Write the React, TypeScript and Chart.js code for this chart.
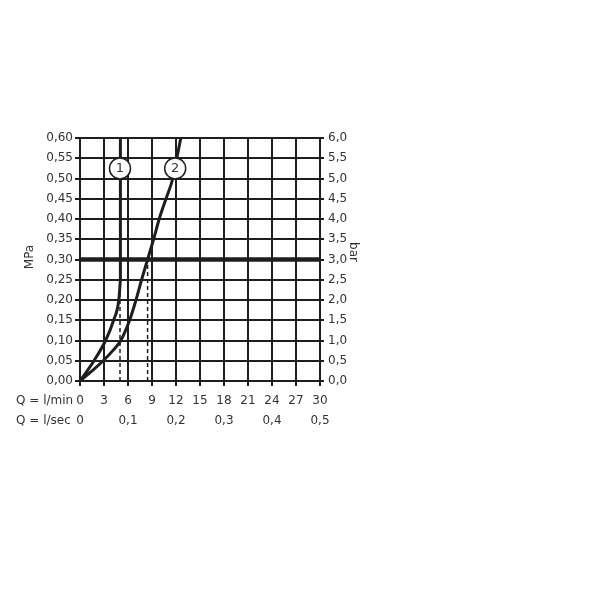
import React, { useEffect, useRef } from "react";
import { Chart, registerables } from "chart.js";

Chart.register(...registerables);

// Flow rate Q (l/min) vs pressure (MPa)
const curve1Q = [0, 0.9, 1.75, 3.2, 4.2, 4.85, 5.05];
const curve1P = [0, 0.025, 0.05, 0.1, 0.15, 0.2, 0.25];
const curve1TopQ = [5.05, 5.05];
const curve1TopP = [0.25, 0.6];
const curve2Q = [0, 1.5, 2.9, 4.1, 5.1, 6.2, 7.0, 7.7, 8.45, 9.2, 9.9, 10.75, 11.6, 12.1, 12.6];
const curve2P = [0, 0.025, 0.05, 0.075, 0.1, 0.15, 0.2, 0.25, 0.3, 0.35, 0.4, 0.45, 0.5, 0.55, 0.6];
const dash1Q = [5.0, 5.0];
const dash1P = [0, 0.22];
const dash2Q = [8.45, 8.45];
const dash2P = [0, 0.3];
const refQ = [0, 30];
const refP = [0.3, 0.3];
const circleLabels = ["1", "2"];
const circleQ = [5.0, 11.9];
const circleP = [0.525, 0.525];
const xTitle1 = "Q = l/min";
const xTitle2 = "Q = l/sec";
const yTitleLeft = "MPa";
const yTitleRight = "bar";

const FONT = "DejaVu Sans";
const TEXT = "#333";
const LINE = "#1e1e1e";

const pts = (xs: number[], ys: number[]) => xs.map((x, i) => ({ x, y: ys[i] }));

const comma = (v: number, d: number) => v.toFixed(d).replace(".", ",");

const annotations = {
  id: "annotations",
  afterDraw(chart: any) {
    const { ctx, scales } = chart;
    const x = scales.x;
    const y = scales.y;
    ctx.save();
    circleLabels.forEach((lab, i) => {
      const cx = x.getPixelForValue(circleQ[i]);
      const cy = y.getPixelForValue(circleP[i]);
      ctx.beginPath();
      ctx.arc(cx, cy, 10.5, 0, Math.PI * 2);
      ctx.fillStyle = "#fff";
      ctx.fill();
      ctx.lineWidth = 1.5;
      ctx.strokeStyle = LINE;
      ctx.stroke();
      ctx.fillStyle = TEXT;
      ctx.font = `13px "${FONT}"`;
      ctx.textAlign = "center";
      ctx.textBaseline = "middle";
      ctx.fillText(lab, cx, cy + 0.5);
    });
    ctx.font = `12px "${FONT}"`;
    ctx.fillStyle = TEXT;
    ctx.textBaseline = "middle";
    ctx.textAlign = "left";
    ctx.fillText(xTitle1, 16, 401);
    ctx.fillText(xTitle2, 16, 421);
    ctx.textAlign = "center";
    ctx.save();
    ctx.translate(30, 257);
    ctx.rotate(-Math.PI / 2);
    ctx.fillText(yTitleLeft, 0, 0);
    ctx.restore();
    ctx.save();
    ctx.translate(353, 252);
    ctx.rotate(Math.PI / 2);
    ctx.fillText(yTitleRight, 0, 0);
    ctx.restore();
    ctx.restore();
  },
};

export default function App() {
  const ref = useRef<HTMLCanvasElement>(null);
  useEffect(() => {
    if (!ref.current) return;
    const font = { family: FONT, size: 12 };
    const chart = new Chart(ref.current, {
      type: "scatter",
      data: {
        datasets: [
          { data: pts(refQ, refP), showLine: true, borderColor: LINE, borderWidth: 4.5, pointRadius: 0 },
          { data: pts(dash1Q, dash1P), showLine: true, borderColor: LINE, borderWidth: 1.5, borderDash: [4, 3], pointRadius: 0 },
          { data: pts(dash2Q, dash2P), showLine: true, borderColor: LINE, borderWidth: 1.5, borderDash: [4, 3], pointRadius: 0 },
          { data: pts(curve1Q, curve1P), showLine: true, borderColor: LINE, borderWidth: 3, pointRadius: 0, cubicInterpolationMode: "monotone" },
          { data: pts(curve1TopQ, curve1TopP), showLine: true, borderColor: LINE, borderWidth: 3, pointRadius: 0 },
          { data: pts(curve2Q, curve2P), showLine: true, borderColor: LINE, borderWidth: 3, pointRadius: 0, cubicInterpolationMode: "monotone" },
        ],
      },
      options: {
        responsive: false,
        animation: false,
        events: [],
        layout: { padding: { left: 0, top: 138, right: 0, bottom: 164 } },
        plugins: { legend: { display: false }, tooltip: { enabled: false } },
        scales: {
          x: {
            type: "linear",
            position: "bottom",
            weight: 0,
            min: 0,
            max: 30,
            ticks: { stepSize: 3, font, color: TEXT, padding: 8, maxRotation: 0, autoSkip: false },
            grid: { color: LINE, lineWidth: 2, tickLength: 5 },
            border: { color: LINE, width: 2 },
            afterFit: (s: any) => { s.height = 30; },
          },
          x2: {
            type: "linear",
            position: "bottom",
            weight: 1,
            min: 0,
            max: 0.5,
            ticks: {
              stepSize: 0.1, font, color: TEXT, padding: 3, maxRotation: 0, autoSkip: false,
              callback: (v: any) => (Number(v) === 0 ? "0" : comma(Number(v), 1)),
            },
            grid: { display: false, drawTicks: false },
            border: { display: false },
            afterFit: (s: any) => { s.height = 25; },
          },
          y: {
            type: "linear",
            position: "left",
            min: 0,
            max: 0.6,
            ticks: { stepSize: 0.05, font, color: TEXT, padding: 2, autoSkip: false, callback: (v: any) => comma(Number(v), 2) },
            grid: { color: LINE, lineWidth: 2, tickLength: 5 },
            border: { color: LINE, width: 2 },
            afterFit: (s: any) => { s.width = 80; },
          },
          y2: {
            type: "linear",
            position: "right",
            min: 0,
            max: 6,
            ticks: { stepSize: 0.5, font, color: TEXT, padding: 4, autoSkip: false, callback: (v: any) => comma(Number(v), 1) },
            grid: { drawOnChartArea: false, color: LINE, lineWidth: 2, tickLength: 4 },
            border: { color: LINE, width: 2 },
            afterFit: (s: any) => { s.width = 280; },
          },
        },
      },
      plugins: [annotations],
    } as any);
    return () => chart.destroy();
  }, []);
  return (
    <div style={{ position: "fixed", left: 0, top: 0, width: 600, height: 600, background: "#fff" }}>
      <canvas ref={ref} width={600} height={600} style={{ display: "block" }} />
    </div>
  );
}
